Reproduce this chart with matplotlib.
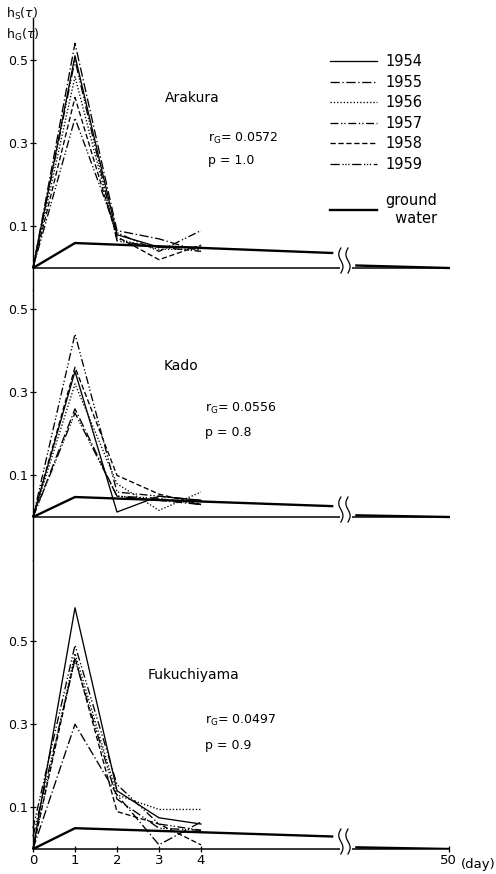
import numpy as np
import matplotlib
matplotlib.use("Agg")
import matplotlib.pyplot as plt
from matplotlib.lines import Line2D

plt.rcParams['font.family'] = ['DejaVu Sans']

# ---- data ----
days = [0, 1, 2, 3, 4]
years = ['1954', '1955', '1956', '1957', '1958', '1959']

arakura = [
    [0, 0.51, 0.080, 0.050, 0.050],
    [0, 0.54, 0.090, 0.070, 0.040],
    [0, 0.46, 0.070, 0.045, 0.045],
    [0, 0.36, 0.085, 0.040, 0.090],
    [0, 0.41, 0.075, 0.020, 0.055],
    [0, 0.50, 0.065, 0.050, 0.040],
]
kado = [
    [0, 0.35, 0.012, 0.050, 0.040],
    [0, 0.26, 0.050, 0.040, 0.030],
    [0, 0.32, 0.080, 0.016, 0.060],
    [0, 0.44, 0.060, 0.050, 0.040],
    [0, 0.36, 0.100, 0.055, 0.030],
    [0, 0.25, 0.050, 0.045, 0.030],
]
fukuchiyama = [
    [0, 0.58, 0.140, 0.075, 0.060],
    [0, 0.30, 0.130, 0.010, 0.065],
    [0, 0.47, 0.130, 0.095, 0.095],
    [0.05, 0.49, 0.155, 0.060, 0.045],
    [0, 0.46, 0.090, 0.060, 0.010],
    [0.03, 0.455, 0.120, 0.050, 0.045],
]

# ground water: days 0, 1 and the point just before the axis break,
# then the tail after the break running out to day 50
gw_x = [0, 1, 7.15]
gw_tail_x = [7.7, 9.9]
gw_arakura = [0, 0.060, 0.036]
gw_kado = [0, 0.048, 0.026]
gw_fuku = [0, 0.050, 0.030]
gw_tail_arakura = [0.006, 0.0]
gw_tail_kado = [0.004, 0.0]
gw_tail_fuku = [0.004, 0.0]

stations = ['Arakura', 'Kado', 'Fukuchiyama']
r_g = ['0.0572', '0.0556', '0.0497']
p_val = ['1.0', '0.8', '0.9']

styles = [
    '-',
    (0, (7, 2, 1, 2)),
    (0, (1, 1.5)),
    (0, (6, 2, 1, 1.5, 1, 2)),
    (0, (4, 2)),
    (0, (7, 2, 1, 1.2, 1, 1.2, 1, 2)),
]

# ---- layout (pixel based, 496 x 874) ----
W, H = 496, 874
fig = plt.figure(figsize=(W / 100, H / 100), dpi=100)
x0_px = 33
px_day = 42.0
px_unit = 416.0
panels = [(18, 268, 290), (290, 517, 560), (560, 849, 849)]  # top, baseline, bottom
xmax = (W - x0_px) / px_day
brk_l, brk_r = 7.2, 7.65
x_end = 9.9

all_data = [arakura, kado, fukuchiyama]
all_gw = [gw_arakura, gw_kado, gw_fuku]
all_tail = [gw_tail_arakura, gw_tail_kado, gw_tail_fuku]
label_pos = [((3.14, 0.409), (4.17, 0.312), (4.17, 0.258)),
             ((3.10, 0.363), (4.10, 0.262), (4.10, 0.204)),
             ((2.74, 0.418), (4.10, 0.310), (4.10, 0.250))]

for i, (top, base, bot) in enumerate(panels):
    ax = fig.add_axes([x0_px / W, 1 - bot / H, 1 - x0_px / W, (bot - top) / H])
    ax.set_xlim(0, xmax)
    ax.set_ylim(-(bot - base) / px_unit, (base - top) / px_unit)
    for s in ['top', 'right', 'bottom']:
        ax.spines[s].set_visible(False)
    ax.spines['left'].set_linewidth(1.0)

    for vals, ls in zip(all_data[i], styles):
        ax.plot(days, vals, color='black', lw=0.95, linestyle=ls, clip_on=False)
    ax.plot(gw_x, all_gw[i], color='black', lw=1.7, solid_capstyle='butt')
    ax.plot(gw_tail_x, all_tail[i], color='black', lw=1.7)

    # broken time axis
    ax.hlines(0, 0, brk_l + 0.12, color='black', lw=1.1, clip_on=False)
    ax.hlines(0, brk_r - 0.05, x_end, color='black', lw=1.1, clip_on=False)
    t = np.linspace(-0.012, 0.048, 40)
    for xb in (7.33, 7.5):
        ax.plot(xb + 0.05 * np.sin((t + 0.012) / 0.06 * 2 * np.pi), t,
                color='black', lw=0.9, clip_on=False)

    ax.set_yticks([0.1, 0.3, 0.5])
    ax.set_yticklabels(['0.1', '0.3', '0.5'], fontsize=9)
    ax.tick_params(axis='y', direction='inout', length=5, width=0.9, pad=1)

    if i == 2:
        ax.set_xticks([0, 1, 2, 3, 4, x_end])
        ax.set_xticklabels(['0', '1', '2', '3', '4', '50'], fontsize=9.5)
        ax.tick_params(axis='x', direction='inout', length=5, width=0.9, pad=1)
        ax.text(x_end + 0.28, -0.021, '(day)', fontsize=9.5, va='top', ha='left',
                clip_on=False)
    else:
        ax.set_xticks([])

    (nx, ny), (rx, ry), (qx, qy) = label_pos[i]
    ax.text(nx, ny, stations[i], fontsize=10, va='center')
    ax.text(rx, ry, r'r$_\mathrm{G}$= ' + r_g[i], fontsize=9, va='center')
    ax.text(qx, qy, 'p = ' + p_val[i], fontsize=9, va='center')

fig.text(6 / W, 1 - 14 / H, r'h$_\mathrm{S}$($\tau$)', fontsize=9, va='center')
fig.text(6 / W, 1 - 35 / H, r'h$_\mathrm{G}$($\tau$)', fontsize=9, va='center')

handles = [Line2D([], [], color='black', lw=0.95, linestyle=ls) for ls in styles]
fig.legend(handles, years, loc='upper left', bbox_to_anchor=(317 / W, 1 - 41 / H),
           frameon=False, fontsize=10.5, handlelength=3.2, handletextpad=0.6,
           labelspacing=0.38)
fig.legend([Line2D([], [], color='black', lw=1.7)], ['ground\n  water'],
           loc='upper left', bbox_to_anchor=(317 / W, 1 - 180 / H),
           frameon=False, fontsize=10.5, handlelength=3.2, handletextpad=0.6)

fig.savefig('out.png', dpi=100)
